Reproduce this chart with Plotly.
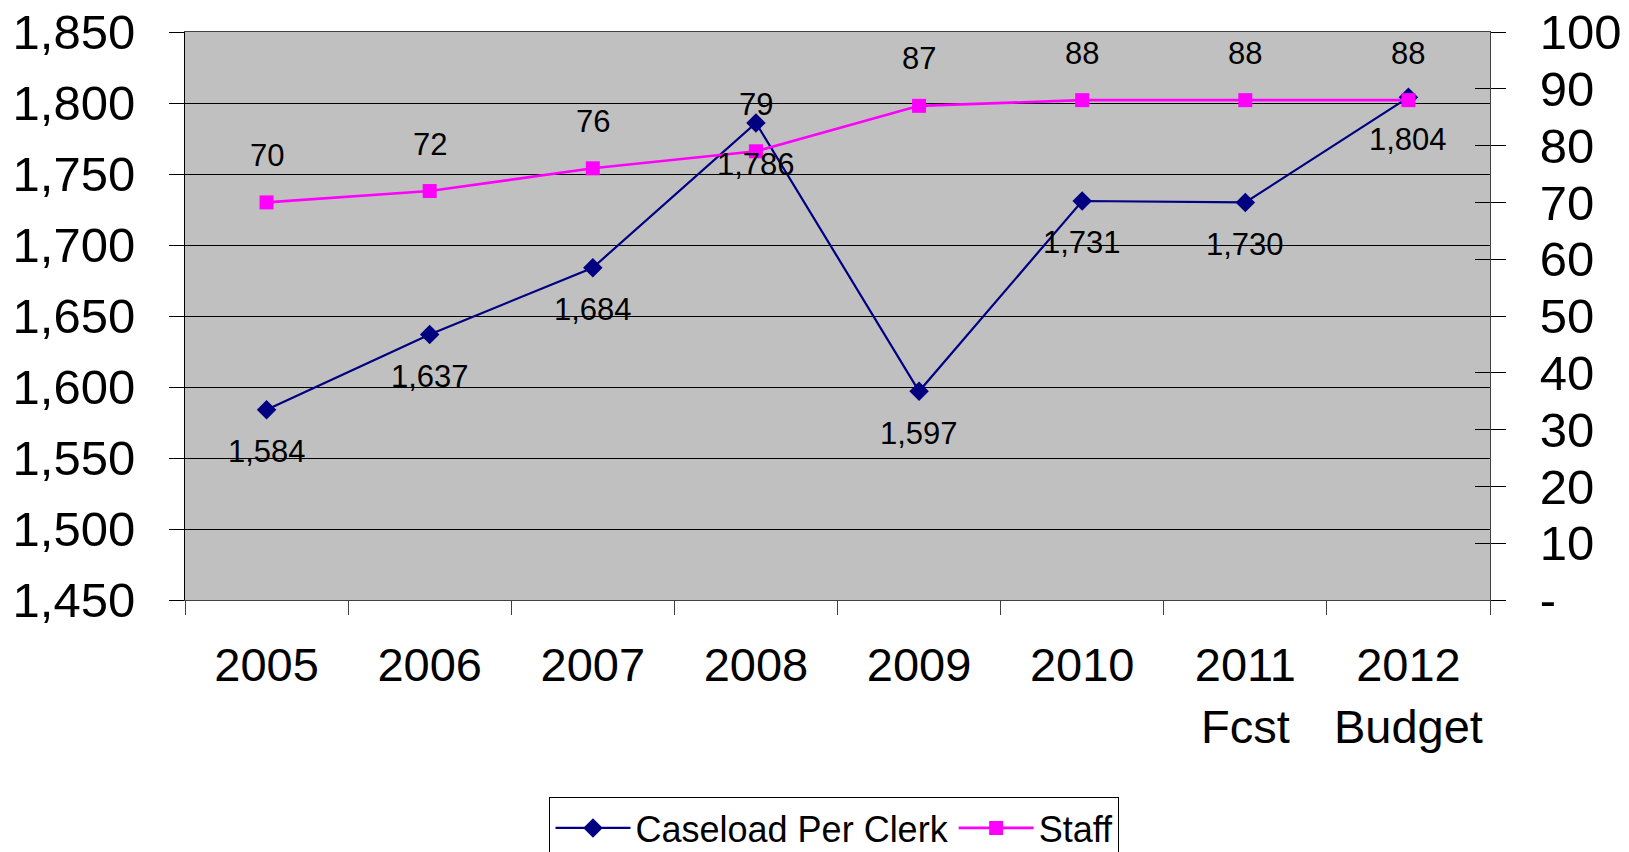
import plotly.graph_objects as go

categories = ["2005", "2006", "2007", "2008", "2009", "2010", "2011<br>Fcst", "2012<br>Budget"]
caseload = [1584, 1637, 1684, 1786, 1597, 1731, 1730, 1804]
staff = [70, 72, 76, 79, 87, 88, 88, 88]
left_ticks = list(range(1450, 1851, 50))
right_ticks = list(range(0, 101, 10))
right_ticktext = ["-"] + [str(v) for v in right_ticks[1:]]

FONT = "Liberation Sans, Arial, sans-serif"
NAVY = "#000080"
MAGENTA = "#FF00FF"

fig = go.Figure()
fig.add_trace(go.Scatter(
    x=categories, y=caseload, name="Caseload Per Clerk", mode="lines+markers",
    line=dict(color=NAVY, width=2.2),
    marker=dict(symbol="diamond", size=15, color=NAVY),
    xaxis="x", yaxis="y", hoverinfo="skip"))
fig.add_trace(go.Scatter(
    x=categories, y=staff, name="Staff", mode="lines+markers",
    line=dict(color=MAGENTA, width=2.6),
    marker=dict(symbol="square", size=14, color=MAGENTA),
    xaxis="x", yaxis="y2", hoverinfo="skip"))
# invisible helper trace so the inner right-tick axis is drawn
fig.add_trace(go.Scatter(
    x=categories, y=staff, mode="markers", marker=dict(opacity=0),
    showlegend=False, xaxis="x", yaxis="y3", hoverinfo="skip"))

# data labels: category axes take the category index for annotations
annotations = []
for i, v in enumerate(caseload):
    annotations.append(dict(x=i, y=v, xref="x", yref="y", text=f"{v:,}",
                            showarrow=False, yshift=-42,
                            font=dict(family=FONT, size=31, color="black")))
for i, v in enumerate(staff):
    annotations.append(dict(x=i, y=v, xref="x", yref="y2", text=f"{v}",
                            showarrow=False, yshift=47,
                            font=dict(family=FONT, size=31, color="black")))

# page body has an 8px default margin, so the figure is 8px smaller
fig.update_layout(
    width=1621, height=844,
    margin=dict(l=177, r=139, t=24, b=252, autoexpand=False),
    paper_bgcolor="white",
    plot_bgcolor="#C0C0C0",
    font=dict(family=FONT, size=49, color="black"),
    showlegend=True,
    legend=dict(orientation="h", x=0.4977, xanchor="center", y=-0.3468, yanchor="top",
                bordercolor="black", borderwidth=1, bgcolor="white",
                font=dict(family=FONT, size=36), traceorder="normal",
                itemwidth=75),
    xaxis=dict(type="category", categoryorder="array", categoryarray=categories,
               range=[-0.5, len(categories) - 0.5],
               tickson="boundaries", ticks="outside", ticklen=14,
               tickcolor="#404040", showline=True, linecolor="#404040", linewidth=1,
               mirror=True, showgrid=False, tickfont=dict(size=47), tickangle=0,
               ticklabelstandoff=24),
    yaxis=dict(range=[1450, 1850], tickvals=left_ticks, tickformat=",",
               ticks="outside", ticklen=15, tickcolor="black",
               showline=True, linecolor="black", linewidth=1,
               showgrid=True, gridcolor="black", gridwidth=1, zeroline=False,
               tickfont=dict(size=49), ticklabelstandoff=24,
               ticklabeloverflow="allow"),
    yaxis2=dict(range=[0, 100], tickvals=right_ticks, ticktext=right_ticktext,
                overlaying="y", side="right", ticks="outside", ticklen=15,
                tickcolor="black", showline=True, linecolor="#404040", linewidth=1,
                showgrid=False, zeroline=False, tickfont=dict(size=49),
                ticklabelstandoff=24, ticklabeloverflow="allow"),
    yaxis3=dict(range=[0, 100], tickvals=right_ticks, overlaying="y", side="right",
                ticks="inside", ticklen=15, tickcolor="black", showticklabels=False,
                showline=False, showgrid=False, zeroline=False),
    annotations=annotations,
)

fig.write_html("out.html")
